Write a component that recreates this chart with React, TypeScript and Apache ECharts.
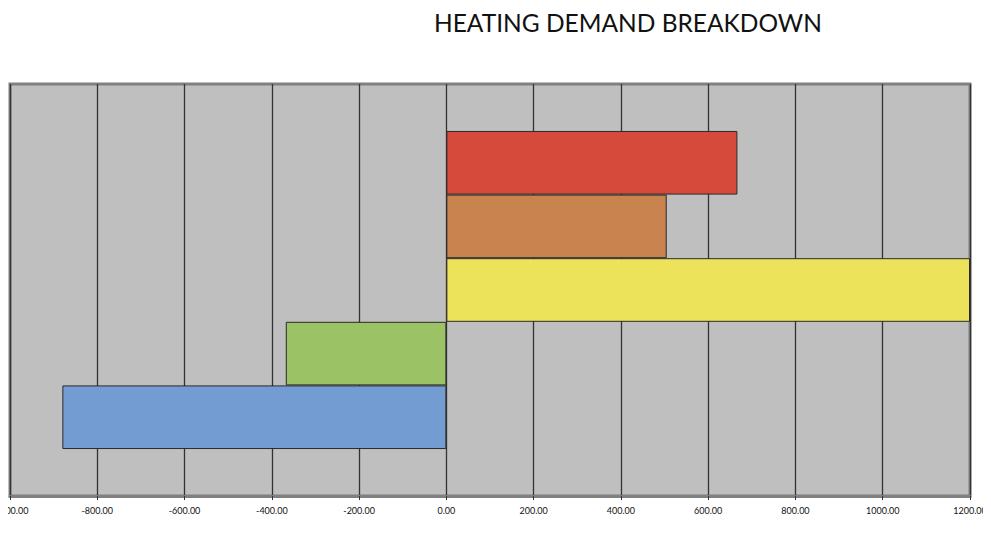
import React, { useEffect, useRef } from "react";
import * as echarts from "echarts";

const categories = ["Heating demand"];
const seriesNames = ["Red", "Orange", "Yellow", "Green", "Blue"];
const seriesValues = [667, 505, 1200, -368, -880];
const seriesColors = ["#d64a3b", "#c8834e", "#ece35b", "#9bc264", "#739dd2"];
const tickMin = -1000;
const tickMax = 1200;
const tickInterval = 200;

export default function App() {
  const ref = useRef<HTMLDivElement>(null);
  useEffect(() => {
    if (!ref.current) return;
    const chart = echarts.init(ref.current, null, { renderer: "svg" });
    chart.setOption({
      animation: false,
      title: {
        text: "HEATING DEMAND BREAKDOWN",
        left: 429,
        top: 5,
        textStyle: {
          fontFamily: "Lato",
          fontWeight: "normal",
          fontSize: 24.5,
          color: "#111",
        },
      },
      grid: {
        left: 10,
        right: 21,
        top: 84,
        bottom: 37,
        show: true,
        backgroundColor: "#bfbfbf",
        borderColor: "#808080",
        borderWidth: 3,
        containLabel: false,
        outerBoundsMode: "none",
      },
      xAxis: {
        type: "value",
        min: tickMin,
        max: tickMax,
        interval: tickInterval,
        axisLine: { show: true, lineStyle: { color: "#808080", width: 3 } },
        axisTick: { show: true, length: 4, lineStyle: { color: "#333", width: 1 } },
        axisLabel: {
          formatter: (v: number) => v.toFixed(2),
          fontSize: 9,
          color: "#111",
          fontFamily: "Lato",
          margin: 10,
          hideOverlap: false,
        },
        splitLine: { show: true, lineStyle: { color: "#333", width: 1.3 } },
      },
      yAxis: {
        type: "category",
        data: categories,
        axisLine: { show: false },
        axisTick: { show: false },
        axisLabel: { show: false },
      },
      series: seriesNames.map((name, i) => ({
        name,
        type: "bar",
        data: [seriesValues[i]],
        barGap: "0%",
        barCategoryGap: "22.8%",
        itemStyle: {
          color: seriesColors[i],
          borderColor: "#2a2a2a",
          borderWidth: 1,
        },
      })),
    });
    return () => chart.dispose();
  }, []);
  return <div ref={ref} style={{ width: 991, height: 533, margin: -8 }} />;
}
